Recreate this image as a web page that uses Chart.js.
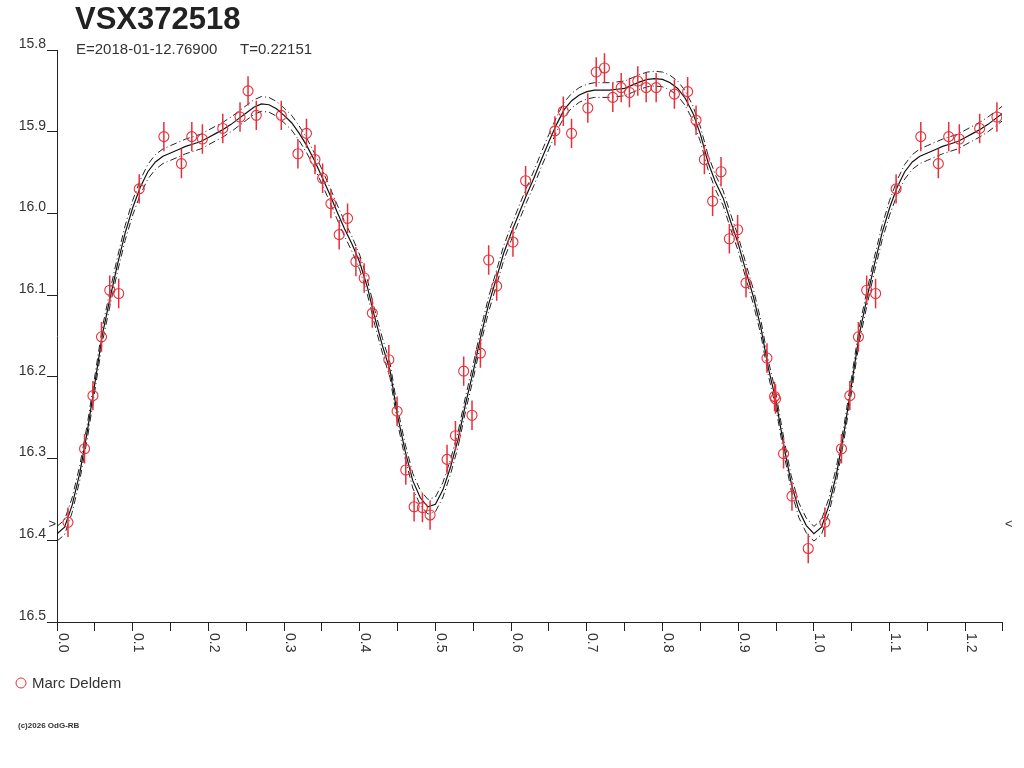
<!DOCTYPE html>
<html>
<head>
<meta charset="utf-8">
<title>VSX372518</title>
<script src="https://cdn.jsdelivr.net/npm/chart.js@4/dist/chart.umd.min.js"></script>
<style>
  html, body { margin: 0; padding: 0; background: #fff; }
  #wrap { width: 1024px; height: 768px; position: relative; }
</style>
</head>
<body>
<div id="wrap"><canvas id="lc" width="1024" height="768"></canvas></div>
<script>
// texts
const starName = "VSX372518";
const epochText = "E=2018-01-12.76900";
const periodText = "T=0.22151";
const observer = "Marc Deldem";
const copyright = "(c)2026 OdG-RB";

// observations (phase, magnitude, error)
const phases = [0.0145, 0.0364, 0.0475, 0.0588, 0.0697, 0.0815, 0.1086, 0.1412, 0.1644, 0.1781,
  0.1921, 0.2190, 0.2418, 0.2524, 0.2633, 0.2963, 0.3183, 0.3296, 0.3408, 0.3509,
  0.3619, 0.3728, 0.3839, 0.3949, 0.4058, 0.4166, 0.4384, 0.4493, 0.4608, 0.4718,
  0.4828, 0.4929, 0.5153, 0.5264, 0.5373, 0.5483, 0.5594, 0.5703, 0.5809, 0.6024,
  0.6191, 0.6578, 0.6689, 0.6798, 0.7013, 0.7124, 0.7233, 0.7343, 0.7454, 0.7563,
  0.7673, 0.7784, 0.7916, 0.8157, 0.8332, 0.8443, 0.8553, 0.8662, 0.8773, 0.8883,
  0.8992, 0.9103, 0.9380, 0.9480, 0.9493, 0.9599, 0.9710, 0.9925];
const mags = [16.378, 16.288, 16.223, 16.151, 16.094, 16.098, 15.970, 15.906, 15.939, 15.906,
  15.909, 15.896, 15.882, 15.850, 15.880, 15.880, 15.927, 15.902, 15.934, 15.957,
  15.988, 16.026, 16.006, 16.059, 16.079, 16.122, 16.179, 16.242, 16.314, 16.359,
  16.360, 16.369, 16.301, 16.272, 16.193, 16.247, 16.171, 16.057, 16.089, 16.035,
  15.960, 15.899, 15.875, 15.902, 15.871, 15.827, 15.822, 15.858, 15.846, 15.852,
  15.838, 15.846, 15.846, 15.854, 15.851, 15.886, 15.934, 15.985, 15.949, 16.031,
  16.020, 16.085, 16.177, 16.224, 16.227, 16.294, 16.346, 16.410];
const errs = [0.018, 0.018, 0.018, 0.018, 0.018, 0.018, 0.018, 0.018, 0.018, 0.018,
  0.018, 0.018, 0.018, 0.018, 0.018, 0.018, 0.018, 0.018, 0.018, 0.018,
  0.018, 0.018, 0.018, 0.018, 0.018, 0.018, 0.018, 0.018, 0.018, 0.018,
  0.018, 0.018, 0.018, 0.018, 0.018, 0.018, 0.018, 0.018, 0.018, 0.018,
  0.018, 0.018, 0.018, 0.018, 0.018, 0.018, 0.018, 0.018, 0.018, 0.018,
  0.018, 0.018, 0.018, 0.018, 0.018, 0.018, 0.018, 0.018, 0.018, 0.018,
  0.018, 0.018, 0.018, 0.018, 0.018, 0.018, 0.018, 0.018];

// fitted light curve and its band
const fitPhase = [0.00, 0.01, 0.02, 0.03, 0.04, 0.05, 0.06, 0.07, 0.08, 0.09,
  0.10, 0.11, 0.12, 0.13, 0.14, 0.15, 0.16, 0.17, 0.18, 0.19,
  0.20, 0.21, 0.22, 0.23, 0.24, 0.25, 0.26, 0.27, 0.28, 0.29,
  0.30, 0.31, 0.32, 0.33, 0.34, 0.35, 0.36, 0.37, 0.38, 0.39,
  0.40, 0.41, 0.42, 0.43, 0.44, 0.45, 0.46, 0.47, 0.48, 0.49,
  0.50, 0.51, 0.52, 0.53, 0.54, 0.55, 0.56, 0.57, 0.58, 0.59,
  0.60, 0.61, 0.62, 0.63, 0.64, 0.65, 0.66, 0.67, 0.68, 0.69,
  0.70, 0.71, 0.72, 0.73, 0.74, 0.75, 0.76, 0.77, 0.78, 0.79,
  0.80, 0.81, 0.82, 0.83, 0.84, 0.85, 0.86, 0.87, 0.88, 0.89,
  0.90, 0.91, 0.92, 0.93, 0.94, 0.95, 0.96, 0.97, 0.98, 0.99, 1.00];
const fitMag = [16.392, 16.384, 16.357, 16.318, 16.267, 16.208, 16.148, 16.104, 16.062, 16.024,
  15.993, 15.968, 15.949, 15.937, 15.930, 15.926, 15.922, 15.918, 15.915, 15.912,
  15.907, 15.902, 15.897, 15.891, 15.884, 15.877, 15.870, 15.866, 15.867, 15.872,
  15.880, 15.889, 15.902, 15.917, 15.935, 15.955, 15.976, 15.998, 16.019, 16.038,
  16.060, 16.090, 16.128, 16.162, 16.192, 16.248, 16.291, 16.327, 16.348, 16.359,
  16.356, 16.338, 16.310, 16.276, 16.232, 16.193, 16.150, 16.112, 16.081, 16.049,
  16.024, 16.001, 15.978, 15.957, 15.934, 15.912, 15.891, 15.873, 15.862, 15.855,
  15.851, 15.849, 15.849, 15.849, 15.848, 15.847, 15.843, 15.839, 15.836, 15.835,
  15.836, 15.840, 15.847, 15.859, 15.877, 15.903, 15.937, 15.962, 15.981, 16.010,
  16.037, 16.070, 16.102, 16.140, 16.190, 16.230, 16.283, 16.330, 16.363, 16.382, 16.392];
const fitBand = 0.009;

// axes
const magTicks = [15.8, 15.9, 16.0, 16.1, 16.2, 16.3, 16.4, 16.5];
const phaseMajor = [0.0, 0.1, 0.2, 0.3, 0.4, 0.5, 0.6, 0.7, 0.8, 0.9, 1.0, 1.1, 1.2];
const phaseMinor = [0.05, 0.15, 0.25, 0.35, 0.45, 0.55, 0.65, 0.75, 0.85, 0.95, 1.05, 1.15];
const phaseMax = 1.2485;
const markerMag = 16.381;

const RED = '#e8303a';
const FONT = '"Liberation Sans", Arial, Helvetica, sans-serif';

// phases are plotted a second time one cycle later, up to the axis end
const wrap = (ph, limit) => ph.map((p, i) => [p, i]).concat(
  ph.map((p, i) => [p + 1, i]).filter(d => d[0] > 1 && d[0] <= limit));

const obsIdx = wrap(phases, phaseMax);
const obsPts = obsIdx.map(([p, i]) => ({ x: p, y: mags[i] }));
const errPts = [];
obsIdx.forEach(([p, i]) => {
  errPts.push({ x: p, y: mags[i] - errs[i] });
  errPts.push({ x: p, y: mags[i] + errs[i] });
  errPts.push({ x: p, y: null });
});
const fitIdx = wrap(fitPhase, phaseMax + 0.01);
const fitPts = fitIdx.map(([p, i]) => ({ x: p, y: fitMag[i] }));
const upPts = fitIdx.map(([p, i]) => ({ x: p, y: fitMag[i] - fitBand }));
const loPts = fitIdx.map(([p, i]) => ({ x: p, y: fitMag[i] + fitBand }));

const decor = {
  id: 'decor',
  afterDraw(chart) {
    const ctx = chart.ctx;
    const xs = chart.scales.x, ys = chart.scales.y;
    ctx.save();
    ctx.textAlign = 'left';
    ctx.textBaseline = 'alphabetic';
    ctx.fillStyle = '#222';
    ctx.font = 'bold 31px ' + FONT;
    ctx.fillText(starName, 75, 29);
    ctx.fillStyle = '#333';
    ctx.font = '15px ' + FONT;
    ctx.fillText(epochText, 76, 54);
    ctx.fillText(periodText, 240, 54);

    // rotated phase labels
    ctx.font = '14px ' + FONT;
    phaseMajor.forEach(v => {
      const px = xs.getPixelForValue(v);
      ctx.save();
      ctx.translate(px + 1.5, xs.top + 11);
      ctx.rotate(Math.PI / 2);
      ctx.fillText(v.toFixed(1), 0, 0);
      ctx.restore();
    });

    // magnitude markers at both ends
    const my = ys.getPixelForValue(markerMag);
    ctx.font = '13px ' + FONT;
    ctx.textBaseline = 'middle';
    ctx.textAlign = 'right';
    ctx.fillText('>', xs.left - 1, my);
    ctx.textAlign = 'left';
    ctx.fillText('<', xs.right + 3, my);

    // legend
    const ds = chart.data.datasets[0];
    ctx.strokeStyle = ds.pointBorderColor;
    ctx.lineWidth = 1;
    ctx.beginPath();
    ctx.arc(21, 683, 5, 0, Math.PI * 2);
    ctx.stroke();
    ctx.font = '15px ' + FONT;
    ctx.fillStyle = '#333';
    ctx.fillText(ds.label, 32, 684);

    ctx.font = 'bold 8px ' + FONT;
    ctx.textBaseline = 'alphabetic';
    ctx.fillText(copyright, 18, 728);
    ctx.restore();
  }
};

new Chart(document.getElementById('lc'), {
  type: 'scatter',
  data: {
    datasets: [
      {
        label: observer,
        data: obsPts,
        order: 0,
        pointStyle: 'circle',
        pointRadius: 5,
        pointHoverRadius: 5,
        pointBorderColor: RED,
        pointBackgroundColor: 'rgba(0,0,0,0)',
        pointBorderWidth: 1.1
      },
      {
        label: 'errors',
        data: errPts,
        order: 1,
        showLine: true,
        spanGaps: false,
        pointRadius: 0,
        borderColor: RED,
        borderWidth: 1.5
      },
      {
        label: 'fit',
        data: fitPts,
        order: 2,
        showLine: true,
        pointRadius: 0,
        borderColor: '#111',
        borderWidth: 1.2,
        tension: 0
      },
      {
        label: 'fit+',
        data: upPts,
        order: 3,
        showLine: true,
        pointRadius: 0,
        borderColor: '#222',
        borderWidth: 1,
        borderDash: [7, 3, 1, 3],
        tension: 0
      },
      {
        label: 'fit-',
        data: loPts,
        order: 3,
        showLine: true,
        pointRadius: 0,
        borderColor: '#222',
        borderWidth: 1,
        borderDash: [7, 3, 1, 3],
        tension: 0
      }
    ]
  },
  options: {
    responsive: false,
    animation: false,
    events: [],
    layout: { padding: { left: 0, top: 50, right: 22, bottom: 106 } },
    plugins: { legend: { display: false }, tooltip: { enabled: false } },
    scales: {
      x: {
        type: 'linear',
        min: 0,
        max: phaseMax,
        afterFit: s => { s.height = 40; },
        afterBuildTicks: s => {
          s.ticks = phaseMajor.concat(phaseMinor, [phaseMax]).sort((a, b) => a - b).map(v => ({ value: v }));
        },
        border: { display: true, color: '#222', width: 1 },
        grid: { drawOnChartArea: false, drawTicks: true, tickLength: 9, tickColor: '#222', color: '#222' },
        ticks: { display: false }
      },
      y: {
        type: 'linear',
        reverse: true,
        min: 15.8,
        max: 16.5,
        afterFit: s => { s.width = 57; },
        afterBuildTicks: s => { s.ticks = magTicks.map(v => ({ value: v })); },
        border: { display: true, color: '#222', width: 1 },
        grid: { drawOnChartArea: false, drawTicks: true, tickLength: 10, tickColor: '#222', color: '#222' },
        ticks: {
          padding: 1,
          labelOffset: -6,
          color: '#333',
          font: { family: FONT, size: 14 },
          callback: v => Number(v).toFixed(1)
        }
      }
    }
  },
  plugins: [decor]
});
</script>
</body>
</html>
